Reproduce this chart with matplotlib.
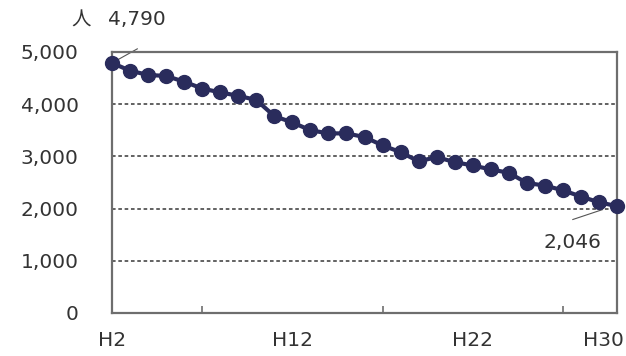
import matplotlib.pyplot as plt
from matplotlib.transforms import offset_copy

# Heisei years H2..H30
years = list(range(2, 31))
people = [4790, 4640, 4560, 4540, 4430, 4300, 4225, 4160, 4080,
          3770, 3650, 3500, 3440, 3440, 3370, 3210, 3080, 2905, 2985,
          2890, 2825, 2750, 2685, 2490, 2440, 2350, 2230, 2120, 2046]
y_ticks = [0, 1000, 2000, 3000, 4000, 5000]
y_tick_labels = ["0", "1,000", "2,000", "3,000", "4,000", "5,000"]
x_label_years = [2, 12, 22, 30]
x_minor_years = [7, 12, 17, 22, 27]

text_color = "#333333"
navy = "#2a2c5c"
frame_color = "#6e6e6e"

fig = plt.figure(figsize=(6.26, 3.56), dpi=100)
ax = fig.add_axes([0.179, 0.121, 0.8066, 0.733])

for y in y_ticks[1:-1]:
    ax.axhline(y, color="#555555", lw=1.3, dashes=(2.0, 1.5), zorder=1)

ax.plot(years, people, color=navy, lw=3, marker="o", markersize=10,
        clip_on=False, zorder=3)

ax.set_xlim(2, 30)
ax.set_ylim(0, 5000)

ax.set_yticks(y_ticks)
ax.set_yticklabels(y_tick_labels)
ax.tick_params(axis="y", length=0, pad=24, labelsize=14.5, labelcolor=text_color)

ax.set_xticks(x_label_years)
ax.set_xticklabels(["H%d" % y for y in x_label_years])
ax.set_xticks(x_minor_years, minor=True)
ax.tick_params(axis="x", which="major", length=0, pad=13, labelsize=14.5,
               labelcolor=text_color)
ax.tick_params(axis="x", which="minor", direction="in", length=5, width=1.2,
               color=frame_color)
last = ax.get_xticklabels()[-1]
last.set_transform(offset_copy(last.get_transform(), fig=fig, x=-14, units="dots"))

for spine in ax.spines.values():
    spine.set_color(frame_color)
    spine.set_linewidth(1.6)

# leader lines and value labels
ax.plot([years[0], 3.4], [people[0], 5060], color="#555555", lw=0.8,
        clip_on=False, zorder=2)
ax.plot([27.55, 29.2], [1790, 1980], color="#555555", lw=0.8,
        clip_on=False, zorder=2)
fig.text(0.219, 0.944, "4,790", fontsize=14.5, color=text_color,
         ha="center", va="center")
fig.text(0.914, 0.32, "2,046", fontsize=14.5, color=text_color,
         ha="center", va="center")
fig.text(0.129, 0.944, "人", fontsize=14, color=text_color, ha="center",
         va="center", family=["Noto Sans CJK JP", "DejaVu Sans"])

fig.savefig("out.png", dpi=100)
